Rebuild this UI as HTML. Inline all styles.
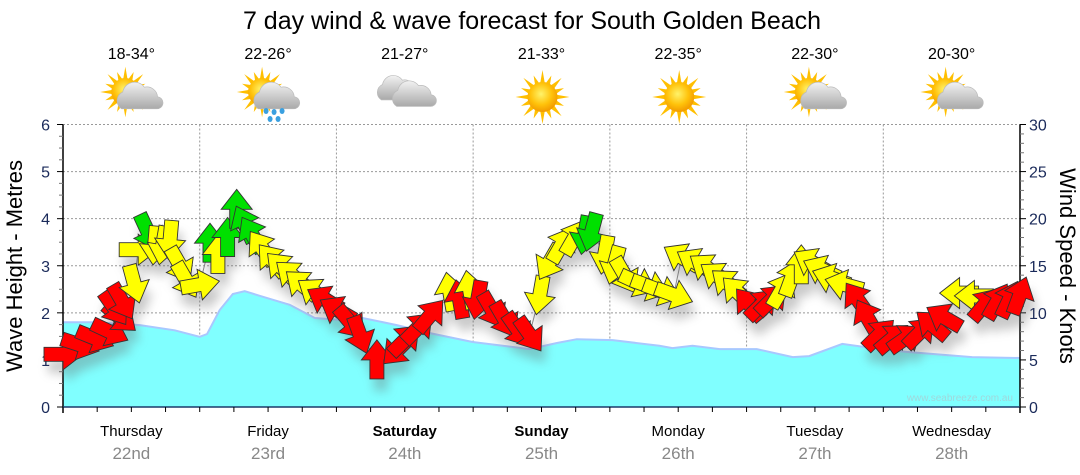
<!DOCTYPE html>
<html><head><meta charset="utf-8">
<style>
html,body{margin:0;padding:0;background:#fff;}
svg{display:block;font-family:"Liberation Sans","DejaVu Sans",sans-serif;}
</style></head>
<body>
<svg id="chart" width="1080" height="475" viewBox="0 0 1080 475" xmlns="http://www.w3.org/2000/svg">
<defs>
<filter id="sh" x="-50%" y="-50%" width="200%" height="200%"><feGaussianBlur stdDeviation="5"/></filter>
<radialGradient id="sun" cx="0.45" cy="0.4" r="0.6"><stop offset="0" stop-color="#fff36a"/><stop offset="0.6" stop-color="#ffc20a"/><stop offset="1" stop-color="#f29a00"/></radialGradient>
<linearGradient id="cloud" x1="0" y1="0" x2="0" y2="1"><stop offset="0" stop-color="#f2f2f2"/><stop offset="1" stop-color="#a9a9a9"/></linearGradient>
</defs>
<text x="532" y="29" font-size="25" text-anchor="middle" fill="#000">7 day wind &amp; wave forecast for South Golden Beach</text>
<g id="grid"></g>
<g id="wave"></g>
<g id="axes"></g>
<g id="wind"></g>
<g id="topw"></g>
<text transform="translate(22,266) rotate(-90)" font-size="22" text-anchor="middle">Wave Height - Metres</text>
<text transform="translate(1060,266) rotate(90)" font-size="22" text-anchor="middle">Wind Speed - Knots</text>
<text x="1013" y="401" font-size="10" text-anchor="end" fill="#9fd8dc">www.seabreeze.com.au</text>
</svg>
<script>
const days = ["Thursday","Friday","Saturday","Sunday","Monday","Tuesday","Wednesday"];
const dates = ["22nd","23rd","24th","25th","26th","27th","28th"];
const temps = ["18-34°","22-26°","21-27°","21-33°","22-35°","22-30°","20-30°"];
const icons = ["suncloud","rain","cloud","sun","sun","suncloud","suncloud"];
const waveHours = [0,5.6,13.5,19.6,24,25.3,27.5,29.8,31.9,34.6,39.8,44.2,48.6,52.6,58.6,64.4,71.9,81.9,86.7,90.2,96.5,104.7,107,110.5,115.3,121.8,128.1,131,136.8,142.1,148.1,159.6,168];
const waveMetres = [1.80,1.80,1.74,1.63,1.49,1.55,2.06,2.40,2.46,2.36,2.17,1.89,1.85,1.89,1.74,1.57,1.38,1.23,1.36,1.44,1.42,1.30,1.25,1.30,1.23,1.23,1.06,1.08,1.34,1.25,1.17,1.06,1.04];
const windHours = [0,3.0,5.6,8.2,10.0,9.0,10.4,12.5,13.2,14.9,16.1,17.5,18.8,20.5,21.6,24.0,25.8,27.2,28.9,30.5,31.9,33.2,34.9,36.7,38.4,40.2,41.9,44.2,46.0,48.2,50.4,52.1,55.1,58.8,60.0,62.3,64.4,67.9,69.6,71.4,72.8,75.3,77.5,79.8,81.9,83.7,85.4,87.5,89.8,91.6,92.8,95.1,96.8,98.6,100.9,103.0,105.1,107.2,108.6,110.9,113.0,114.9,116.7,118.4,120.5,122.6,124.4,126.1,127.9,129.6,131.4,133.2,134.9,137.2,139.5,141.2,143.3,145.6,147.9,150.4,152.6,154.7,157.4,160.0,161.8,164.0,166.1,167.9];
const windKnots = [5.6,6.6,7.3,8.0,9.5,10.5,11.2,13.1,16.7,18.6,17.2,17.2,17.8,15.1,13.5,13.0,17.4,16.2,18.0,21.0,19.4,18.3,16.9,15.6,14.8,14.0,13.0,12.2,11.4,10.3,9.0,7.7,5.0,6.1,7.1,8.4,9.7,12.2,11.4,12.4,11.4,10.3,9.3,8.2,7.7,11.9,15.4,17.2,18.0,18.3,18.6,16.2,15.1,14.0,13.2,12.8,12.3,11.9,15.9,15.4,14.8,13.9,13.1,12.2,10.9,10.9,11.4,12.4,13.7,15.1,15.4,14.6,13.7,13.0,11.4,9.5,7.7,7.3,7.3,7.9,8.7,9.5,12.1,11.8,10.9,11.2,11.4,11.8];
const windDir = [0,18,22,25,40,55,60,75,0,65,95,100,95,60,60,-10,-90,-90,-90,-90,-115,-120,-125,-130,-135,-140,-140,-145,-150,-150,50,70,-90,135,-45,-45,-50,-100,-100,-100,100,60,60,55,55,100,120,-60,-60,100,105,100,105,60,25,20,20,20,-150,-150,-145,-145,-140,-135,-130,-45,-45,-60,-70,-90,-150,-155,-160,-165,-125,-120,-45,-40,-35,-45,-140,-150,180,180,-50,-60,-65,-70];
const windColor = ["r","r","r","r","r","r","r","y","y","g","y","y","y","y","y","y","g","y","g","g","g","g","y","y","y","y","y","y","r","r","r","r","r","r","r","r","r","y","r","y","r","r","r","r","r","y","y","y","y","g","g","y","y","y","y","y","y","y","y","y","y","y","y","y","r","r","r","y","y","y","y","y","y","y","r","r","r","r","r","r","r","r","y","y","r","r","r","r"];
const leftTicks = [0,1,2,3,4,5,6];
const rightTicks = [0,5,10,15,20,25,30];

const NS="http://www.w3.org/2000/svg";
const X0=63,X1=1020,Y0=407,Y6=124.5;
const xH=h=>X0+(X1-X0)*h/168;
const yM=m=>Y0-(Y0-Y6)*m/6;
const yK=k=>Y0-(Y0-Y6)*k/30;
function mk(tag,attrs,parent){const e=document.createElementNS(NS,tag);for(const k in attrs)e.setAttribute(k,attrs[k]);parent.appendChild(e);return e;}
const gridG=document.getElementById('grid'),axesG=document.getElementById('axes'),waveG=document.getElementById('wave'),windG=document.getElementById('wind'),topG=document.getElementById('topw');

for(let m=1;m<=6;m++){const l=mk('line',{x1:X0,x2:X1,y1:yM(m),y2:yM(m),stroke:'#999','stroke-dasharray':'2,2','stroke-width':1},gridG);

}
for(let d=1;d<7;d++){const l=mk('line',{x1:xH(d*24),x2:xH(d*24),y1:Y6,y2:Y0,stroke:'#999','stroke-dasharray':'2,2'},gridG);

}

let d='M'+xH(waveHours[0])+','+Y0;
waveHours.forEach((h,i)=>{d+=' L'+xH(h).toFixed(1)+','+yM(waveMetres[i]).toFixed(1);});
d+=' L'+xH(waveHours[waveHours.length-1])+','+Y0+' Z';
const wa=mk('path',{d:d,fill:'#80ffff',stroke:'none'},waveG);


let dl='M'+waveHours.map((h,i)=>xH(h).toFixed(1)+','+yM(waveMetres[i]).toFixed(1)).join(' L');
const wl=mk('path',{d:dl,fill:'none',stroke:'#a8c8ff','stroke-width':2},waveG);



const la=mk('line',{x1:X0,x2:X0,y1:Y6,y2:Y0+6,stroke:'#000','stroke-width':1.5},axesG);


const ra=mk('line',{x1:X1,x2:X1,y1:Y6,y2:Y0+6,stroke:'#000','stroke-width':1.5},axesG);


const ba=mk('line',{x1:X0,x2:X1,y1:Y0,y2:Y0,stroke:'#1a3a6a','stroke-width':1.5},axesG);


for(let i=0;i<=24;i++){const m=i/4;if(i%4)mk('line',{x1:X0-4,x2:X0,y1:yM(m),y2:yM(m),stroke:'#777'},axesG);}
leftTicks.forEach(m=>{mk('line',{x1:X0-6,x2:X0,y1:yM(m),y2:yM(m),stroke:'#000'},axesG);
const t=mk('text',{x:X0-13,y:yM(m)+6,'font-size':16,'text-anchor':'end',fill:'#1a2a5a'},axesG);t.textContent=m;

});
for(let k=0;k<=30;k++){if(k%5)mk('line',{x1:X1,x2:X1+4,y1:yK(k),y2:yK(k),stroke:'#777'},axesG);}
rightTicks.forEach(k=>{mk('line',{x1:X1,x2:X1+6,y1:yK(k),y2:yK(k),stroke:'#000'},axesG);
const t=mk('text',{x:X1+9,y:yK(k)+6,'font-size':16,fill:'#1a2a5a'},axesG);t.textContent=k;

});
for(let h=0;h<=168;h+=6){mk('line',{x1:xH(h),x2:xH(h),y1:Y0,y2:Y0+5,stroke:'#000'},axesG);}
days.forEach((dn,i)=>{const cx=xH(i*24+12);
const t=mk('text',{x:cx,y:436,'font-size':15,'text-anchor':'middle','font-weight':(i==2||i==3)?'bold':'normal'},axesG);t.textContent=dn;


const t2=mk('text',{x:cx,y:459,'font-size':17,'text-anchor':'middle',fill:'#888'},axesG);t2.textContent=dates[i];

});

const cp=mk('path',{d:'M'+windHours.map((h,i)=>xH(h).toFixed(1)+','+yK(windKnots[i]).toFixed(1)).join(' L'),fill:'none',stroke:'#888','stroke-width':1},windG);


const shadowG=mk('g',{filter:'url(#sh)',opacity:0.35},windG);
const cols={r:'#ff0000',y:'#ffff00',g:'#00e000'};
const arrowPts='-19,-7 0,-7 0,-15.5 20,0 0,15.5 0,7 -19,7';
windHours.forEach((h,i)=>{const x=xH(h),y=yK(windKnots[i]);
mk('polygon',{points:arrowPts,transform:`translate(${x+4},${y+12}) rotate(${windDir[i]})`,fill:'#666'},shadowG);});
windHours.forEach((h,i)=>{const x=xH(h),y=yK(windKnots[i]);
const a=mk('polygon',{points:arrowPts,transform:`translate(${x.toFixed(1)},${y.toFixed(1)}) rotate(${windDir[i]})`,fill:cols[windColor[i]]||'#ff0000',stroke:'#333','stroke-width':0.9},windG);

});

function sunIcon(g,cx,cy,r){for(let i=0;i<16;i++){const a=i*Math.PI/8;const l=i%2?r*1.55:r*1.8;
mk('polygon',{points:`${cx+Math.cos(a)*l},${cy+Math.sin(a)*l} ${cx+Math.cos(a+0.18)*r*0.9},${cy+Math.sin(a+0.18)*r*0.9} ${cx+Math.cos(a-0.18)*r*0.9},${cy+Math.sin(a-0.18)*r*0.9}`,fill:'#ffbf00'},g);}
mk('circle',{cx:cx,cy:cy,r:r,fill:'url(#sun)'},g);}
function cloudIcon(g,cx,cy,s){mk('path',{d:`M${cx-14*s},${cy+9*s} a${8*s},${8*s} 0 0 1 ${1*s},${-14*s} a${10*s},${10*s} 0 0 1 ${18*s},${-4*s} a${9*s},${9*s} 0 0 1 ${11*s},${8*s} a${5*s},${5*s} 0 0 1 ${-1*s},${10*s} z`,fill:'url(#cloud)',stroke:'#bbb','stroke-width':0.7},g);}
temps.forEach((tp,i)=>{const cx=xH(i*24+12);
const t=mk('text',{x:cx,y:59,'font-size':16,'text-anchor':'middle'},topG);t.textContent=tp;


const g=mk('g',{},topG);


const ic=icons[i];
if(ic=='sun'){sunIcon(g,cx+1,97,15);}
else if(ic=='cloud'){cloudIcon(g,cx-8,90,1.1);cloudIcon(g,cx+8,96,1.15);}
else{sunIcon(g,cx-6,92,14);cloudIcon(g,cx+7,98,1.2);
if(ic=='rain'){[[-2,111],[6,112],[14,111],[2,119],[10,119]].forEach(p=>mk('ellipse',{cx:cx+p[0],cy:p[1],rx:2.5,ry:3,fill:'#3aa0e0'},g));}}});
</script>
</body></html>
